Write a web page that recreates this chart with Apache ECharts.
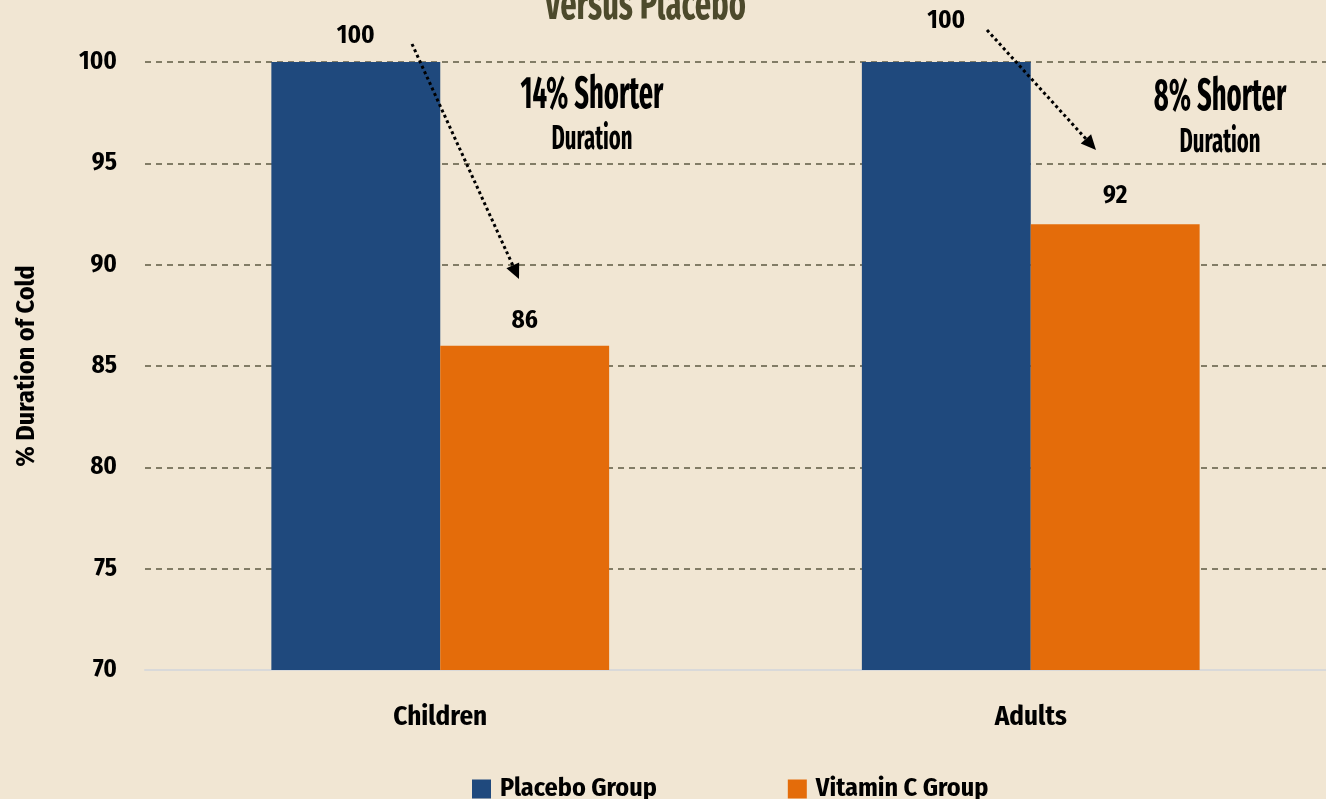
<!DOCTYPE html>
<html>
<head>
<meta charset="utf-8">
<script src="https://cdn.jsdelivr.net/npm/echarts@6/dist/echarts.min.js"></script>
<style>html,body{margin:0;padding:0;background:#f1e6d3;}#c{width:1326px;height:799px;}</style>
</head>
<body>
<div id="c"></div>
<script>
var categories = ['Children', 'Adults'];
var placeboValues = [100, 100];
var vitaminCValues = [86, 92];
var seriesNames = ['Placebo Group', 'Vitamin C Group'];
var yTicks = [70, 75, 80, 85, 90, 95, 100];
var annotations = ['14% Shorter', '8% Shorter'];
var subAnnotation = 'Duration';
var titleText = 'Versus Placebo';

var FONT = '"Fira Sans Condensed", "Open Sans Condensed", "DejaVu Sans Condensed", sans-serif';
var chart = echarts.init(document.getElementById('c'), null, {renderer: 'canvas'});

function txt(size, extra) {
  var o = {fontFamily: FONT, fontWeight: 'bold', fontSize: size, color: '#000'};
  for (var k in extra) o[k] = extra[k];
  return o;
}

function arrow(x1, y1, x2, y2) {
  var dx = x2 - x1, dy = y2 - y1, L = Math.sqrt(dx * dx + dy * dy);
  var ux = dx / L, uy = dy / L, px = -uy, py = ux;
  var hl = 15, hw = 7;
  var bx = x2 - ux * hl, by = y2 - uy * hl;
  return [
    {type: 'line', shape: {x1: x1, y1: y1, x2: bx, y2: by},
     style: {stroke: '#000', lineWidth: 3, lineDash: [3, 3]}, z: 100},
    {type: 'polygon', shape: {points: [[x2, y2], [bx + px * hw, by + py * hw], [bx - px * hw, by - py * hw]]},
     style: {fill: '#000'}, z: 100}
  ];
}

function gtext(x, y, text, size, sx, color) {
  return {type: 'text', x: x, y: y, scaleX: sx, z: 100,
    style: {text: text, align: 'center', verticalAlign: 'middle', fontFamily: FONT,
            fontWeight: 'bold', fontSize: size, fill: color || '#000'}};
}

var placeboDistances = [13, 28];
var vitaminDistances = [12, 16];

var option = {
  backgroundColor: '#f1e6d3',
  animation: false,
  textStyle: {fontFamily: FONT},
  grid: {left: 145, right: 0, top: 62, bottom: 129},
  legend: {
    left: 467, top: 771,
    itemWidth: 19, itemHeight: 19, itemGap: 131,
    icon: 'rect',
    textStyle: txt(26, {padding: [0, 0, 0, 4]}),
    data: seriesNames
  },
  xAxis: {
    type: 'category',
    data: categories,
    axisLine: {lineStyle: {color: '#d9d9d9', width: 2}},
    axisTick: {show: false},
    axisLabel: txt(27, {margin: 34})
  },
  yAxis: {
    type: 'value',
    min: 70, max: 100, interval: 5,
    name: '% Duration of Cold',
    nameLocation: 'middle',
    nameGap: 105,
    nameTextStyle: txt(26),
    axisLine: {show: false},
    axisTick: {show: false},
    axisLabel: txt(25, {margin: 28,
      formatter: function (v) { return yTicks.indexOf(v) >= 0 ? String(v) : ''; }}),
    splitLine: {lineStyle: {color: '#5e5943', width: 1.5, type: [6, 5]}}
  },
  series: [
    {
      name: seriesNames[0], type: 'bar',
      data: placeboValues.map(function (v, i) {
        return {value: v, label: {distance: placeboDistances[i]}};
      }),
      barWidth: '28.6%', barGap: '0%',
      itemStyle: {color: '#1f497d'},
      label: txt(25, {show: true, position: 'top'})
    },
    {
      name: seriesNames[1], type: 'bar',
      data: vitaminCValues.map(function (v, i) {
        return {value: v, label: {distance: vitaminDistances[i]}};
      }),
      barWidth: '28.6%',
      itemStyle: {color: '#e46c0a'},
      label: txt(25, {show: true, position: 'top'})
    }
  ],
  graphic: [].concat(
    [gtext(645, 6, titleText, 46, 0.7, '#4d4a2c'),
     gtext(592, 95, annotations[0], 45, 0.63),
     gtext(592, 140, subAnnotation, 34, 0.66),
     gtext(1220, 97, annotations[1], 45, 0.63),
     gtext(1220, 143, subAnnotation, 34, 0.66)
    ],
    arrow(412, 44, 519, 279),
    arrow(987, 30, 1096, 150)
  )
};
chart.setOption(option);
</script>
</body>
</html>
